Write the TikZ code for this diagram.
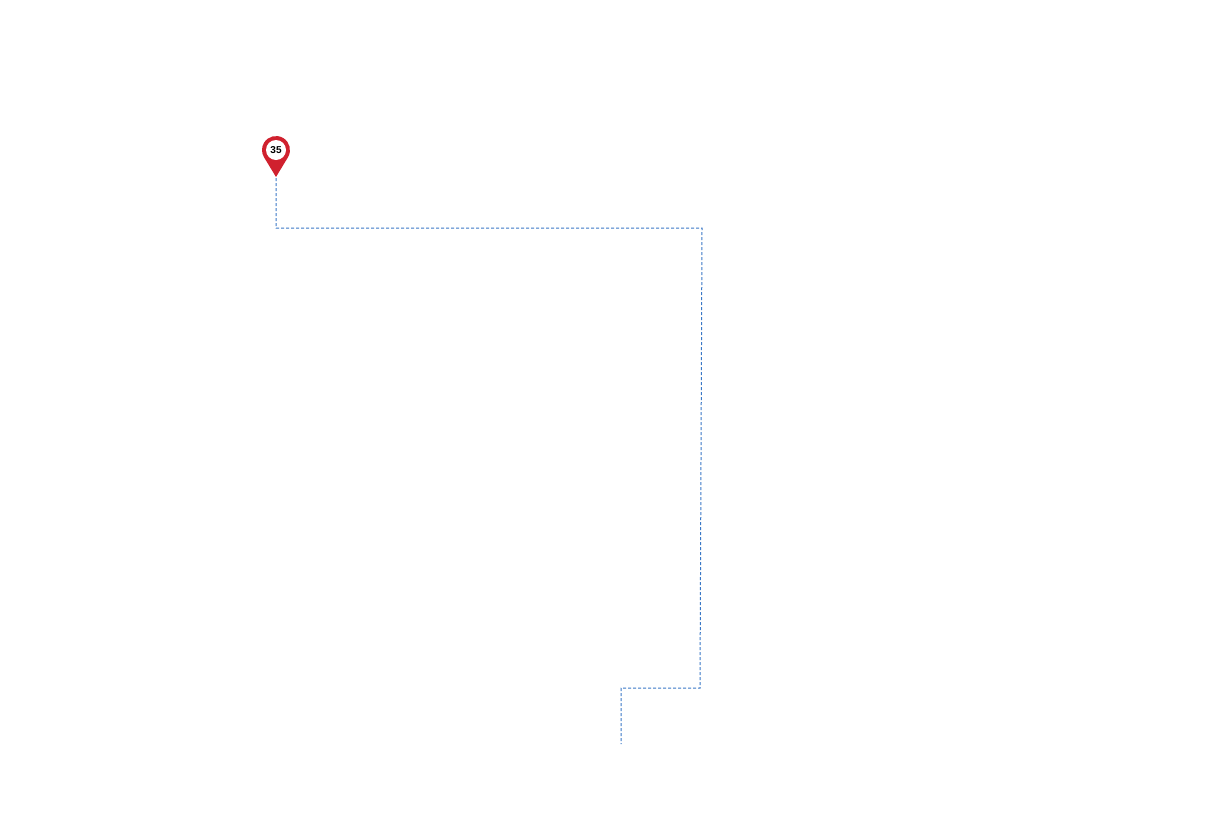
\documentclass[tikz,border=0pt]{standalone}
\usepackage{fontspec}
\setsansfont{Liberation Sans}
\usetikzlibrary{calc}
\definecolor{pinred}{HTML}{D0212E}
\definecolor{routeblue}{HTML}{3A78C6}
\begin{document}
\begin{tikzpicture}[x=1pt,y=-1pt,
  route/.style={draw=routeblue,line width=1pt,dash pattern=on 3pt off 2pt},
  pinlabel/.style={circle,fill=white,inner sep=0pt,minimum size=20pt,font=\sffamily\bfseries\fontsize{10}{10}\selectfont,text=black}]
\useasboundingbox (0,0) rectangle (1220,830);
% pin
\fill[pinred] (276,177) -- (287.97,157.25) arc[start angle=31.2,end angle=-211.2,radius=14] -- cycle;
\node[pinlabel] (pin) at (276,150) {35};
\coordinate (tip) at (276,178);
\coordinate (c1) at (276,228);
\coordinate (c2) at (702,228);
\coordinate (c3) at (700,688);
\coordinate (c4) at (621,688);
\coordinate (c5) at (621,744);
\draw[route] (tip) -- (c1) -- (c2) -- (c3) -- (c4) -- (c5);
\end{tikzpicture}
\end{document}
